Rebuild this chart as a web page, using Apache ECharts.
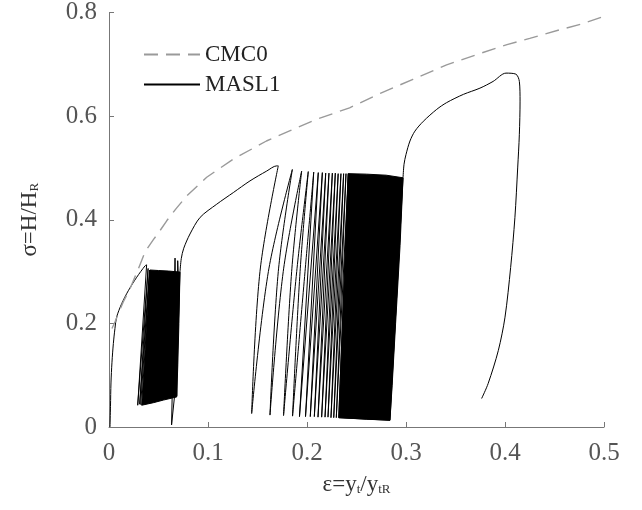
<!DOCTYPE html>
<html>
<head>
<meta charset="utf-8">
<script src="https://cdn.jsdelivr.net/npm/echarts@6/dist/echarts.min.js"></script>
<style>
html,body{margin:0;padding:0;background:#fff;}
#chart{width:642px;height:510px;}
</style>
</head>
<body>
<div id="chart"></div>
<script>
// ---- data ----
const cmc0 = [[0.003,0.19],[0.006,0.2025],[0.011,0.226],[0.0145,0.242],[0.021,0.266],[0.0296,0.305],[0.0364,0.338],[0.045,0.362],[0.0515,0.379],[0.0583,0.398],[0.068,0.422],[0.0785,0.446],[0.0987,0.482],[0.1256,0.517],[0.159,0.552],[0.183,0.572],[0.21,0.594],[0.243,0.616],[0.274,0.644],[0.307,0.671],[0.341,0.699],[0.375,0.721],[0.402,0.738],[0.425,0.750],[0.456,0.767],[0.476,0.777],[0.499,0.792]];

const masl1Initial = [[0.001,0.0],[0.0015,0.04],[0.002,0.085],[0.003,0.125],[0.0044,0.161],[0.006,0.19],[0.0077,0.212],[0.0128,0.238],[0.0195,0.263],[0.028,0.289],[0.0364,0.311],[0.038,0.313]];
const masl1PreBlock = [[0.038,0.313],[0.0385,0.31],[0.029,0.042],[0.0395,0.306],[0.031,0.044],[0.041,0.303],[0.032,0.043]];
const block1Outline = [[0.0414,0.303],[0.05,0.302],[0.06,0.301],[0.0717,0.299],[0.0706,0.2],[0.0695,0.12],[0.0684,0.058],[0.055,0.052],[0.045,0.047],[0.033,0.042],[0.0365,0.15],[0.0395,0.25]];
const masl1Spikes = [[0.0700,0.29],[0.0694,0.321],[0.0684,0.06],[0.0667,0.326],[0.0632,0.004],[0.0684,0.1],[0.0717,0.299]];
const masl1Bridge = [[0.0717,0.299],[0.073,0.325],[0.0755,0.345],[0.0818,0.3725],[0.092,0.4045],[0.1088,0.430],[0.1256,0.4525],[0.1424,0.475],[0.1593,0.494],[0.1694,0.504],[0.171,0.504]];
const loopPeaksX = [0.171,0.1852,0.1946,0.2013,0.2068,0.2114,0.2155,0.2189,0.2222,0.2256,0.2286,0.2315,0.2343,0.2370,0.2394,0.2417];
const loopPeaksY = [0.504,0.497,0.494,0.493,0.492,0.491,0.491,0.490,0.490,0.490,0.490,0.489,0.489,0.489,0.489,0.489];
const loopTroughsX = [0.1441,0.1626,0.1763,0.1854,0.1924,0.1985,0.2033,0.2074,0.2111,0.2148,0.2182,0.2212,0.2242,0.2270,0.2296,0.2321];
const loopTroughsY = [0.026,0.023,0.022,0.021,0.020,0.020,0.020,0.020,0.019,0.019,0.019,0.019,0.018,0.018,0.018,0.018];
// where the first unloading / reloading branches cross sigma = 0.30
const loopMidY = 0.30;
const unloadMidX = [0.1525,0.171,0.1845,0.193];
const reloadMidX = [0.161,0.176,0.1896,0.198];
const block2Outline = [[0.2417,0.489],[0.26,0.488],[0.28,0.486],[0.297,0.481],[0.294,0.35],[0.2895,0.2],[0.286,0.08],[0.2838,0.013],[0.26,0.015],[0.2321,0.018]];
const masl1Final = [[0.297,0.481],[0.298,0.507],[0.300,0.526],[0.304,0.552],[0.309,0.571],[0.3175,0.590],[0.331,0.613],[0.341,0.626],[0.358,0.642],[0.3747,0.654],[0.388,0.667],[0.401,0.683],[0.411,0.681],[0.4145,0.667],[0.4152,0.629],[0.4145,0.565],[0.4128,0.50],[0.410,0.404],[0.4057,0.308],[0.4,0.212],[0.3933,0.148],[0.383,0.084],[0.3764,0.055]];
const xTicks = [0, 0.1, 0.2, 0.3, 0.4, 0.5];
const yTicks = [0, 0.2, 0.4, 0.6, 0.8];

// ---- build the cyclic MASL1 path from the arrays ----
const GAP = ['-', '-'];
const curvedBranches = [];   // first loops: each branch separately, smoothed through its mid point
const straightLoops = [];
for (let i = 0; i < loopPeaksX.length; i++) {
  const pk = [loopPeaksX[i], loopPeaksY[i]];
  const tr = [loopTroughsX[i], loopTroughsY[i]];
  const nextPk = i + 1 < loopPeaksX.length ? [loopPeaksX[i + 1], loopPeaksY[i + 1]] : null;
  if (i < unloadMidX.length) {
    curvedBranches.push(pk, [unloadMidX[i], loopMidY], tr, GAP);
    if (nextPk) curvedBranches.push(tr, [reloadMidX[i], loopMidY], nextPk, GAP);
  } else {
    straightLoops.push(pk, tr);
  }
}
straightLoops.push(block2Outline[7], block2Outline[3]);
const blocks = [block1Outline, block2Outline];

const serif = 'Liberation Serif';
const solid = {color: '#000', width: 1};
function masl(data, smooth) {
  return {name: 'MASL1', type: 'line', data: data, showSymbol: false, symbol: 'none',
          connectNulls: false, smooth: smooth, itemStyle: {color: '#000'}, lineStyle: solid, z: 2};
}
const chart = echarts.init(document.getElementById('chart'), null, {renderer: 'canvas'});
chart.setOption({
  animation: false,
  backgroundColor: '#fff',
  grid: {left: 109, right: 38, top: 11, bottom: 83, containLabel: false},
  legend: {
    data: ['CMC0', 'MASL1'],
    orient: 'vertical',
    left: 138, top: 38,
    itemWidth: 56, itemHeight: 14, itemGap: 7,
    itemStyle: {opacity: 0},
    textStyle: {fontFamily: serif, fontSize: 23, color: '#222', lineHeight: 22}
  },
  xAxis: {
    type: 'value', min: 0, max: 0.5, interval: 0.1,
    name: 'ε=y{s|t}/y{s|tR}', nameLocation: 'middle', nameGap: 46,
    nameTextStyle: {fontFamily: serif, fontSize: 23, color: '#333',
      rich: {s: {fontFamily: serif, fontSize: 13, color: '#333', verticalAlign: 'bottom'}}},
    axisLine: {lineStyle: {color: '#777', width: 1}},
    axisTick: {inside: true, length: 5, lineStyle: {color: '#777'}},
    axisLabel: {fontFamily: serif, fontSize: 25, color: '#555', margin: 14},
    splitLine: {show: false}
  },
  yAxis: {
    type: 'value', min: 0, max: 0.8, interval: 0.2,
    name: 'σ=H/H{s|R}', nameLocation: 'middle', nameGap: 68, nameRotate: 90,
    nameTextStyle: {fontFamily: serif, fontSize: 23, color: '#333',
      rich: {s: {fontFamily: serif, fontSize: 13, color: '#333', verticalAlign: 'bottom'}}},
    axisLine: {show: true, lineStyle: {color: '#777', width: 1}},
    axisTick: {show: true, inside: true, length: 5, lineStyle: {color: '#777'}},
    axisLabel: {fontFamily: serif, fontSize: 25, color: '#555', margin: 12},
    splitLine: {show: false}
  },
  series: [
    {
      name: 'CMC0', type: 'line', data: cmc0, showSymbol: false, symbol: 'none',
      itemStyle: {color: '#9a9a9a'},
      lineStyle: {color: '#9a9a9a', width: 1.4, type: [14, 8]}, z: 3
    },
    masl(masl1Initial, 0.3),
    masl(masl1PreBlock, false),
    masl(masl1Spikes, false),
    masl(masl1Bridge, 0.3),
    masl(curvedBranches, 0.35),
    masl(straightLoops, false),
    masl(masl1Final, 0.3),
    {
      name: 'MASL1', type: 'custom',
      data: blocks.map((b, i) => [b[0][0], b[0][1], i]),
      encode: {x: 0, y: 1},
      itemStyle: {color: '#000'},
      renderItem: function (params, api) {
        const outline = blocks[api.value(2)];
        return {type: 'polygon', shape: {points: outline.map(p => api.coord(p))},
                style: {fill: '#000', stroke: '#000', lineWidth: 1}};
      },
      z: 2
    }
  ]
});
</script>
</body>
</html>
